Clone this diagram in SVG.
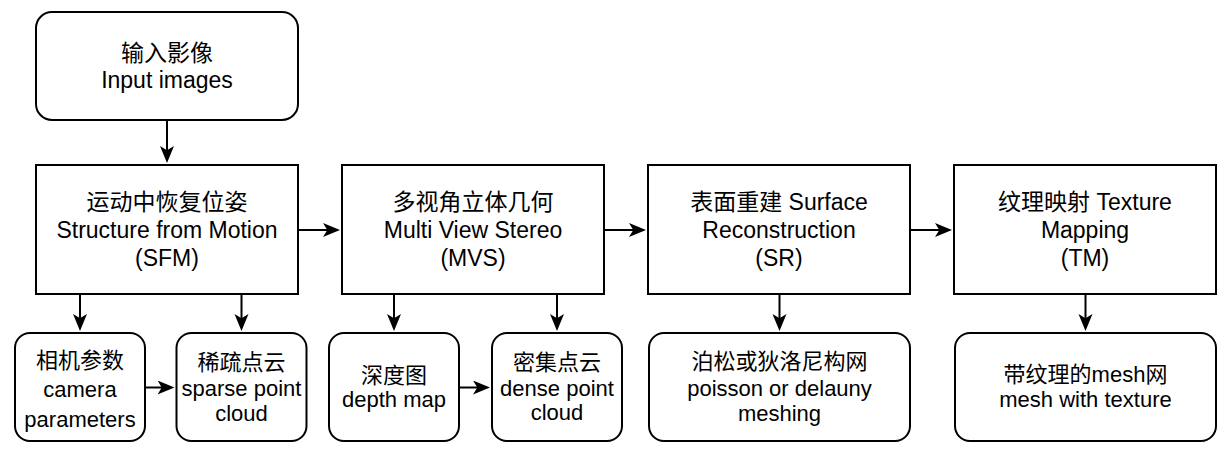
<svg xmlns="http://www.w3.org/2000/svg" width="1231" height="466" viewBox="0 0 1231 466">
  <defs>
    <marker id="arrow" markerUnits="userSpaceOnUse" markerWidth="18" markerHeight="15" refX="13" refY="7" orient="auto">
      <path d="M0,0 L17,7 L0,14 L4.3,7 Z" fill="#000"/>
    </marker>
    <style>
      .box { fill: #fff; stroke: #000; stroke-width: 2; }
      .edge { fill: none; stroke: #000; stroke-width: 2; marker-end: url(#arrow); }
      text { font-family: "Liberation Sans", "Noto Sans CJK SC", sans-serif; fill: #000; text-anchor: middle; }
      .big { font-size: 23px; }
      .small { font-size: 22px; }
    </style>
  </defs>
  <rect width="1231" height="466" fill="#fff"/>

  <g id="connectors">
    <line class="edge" x1="167" y1="120" x2="167" y2="159"/>
    <line class="edge" x1="298" y1="230" x2="336" y2="230"/>
    <line class="edge" x1="604" y1="230" x2="642" y2="230"/>
    <line class="edge" x1="910" y1="230" x2="948" y2="230"/>
    <line class="edge" x1="80" y1="294" x2="80" y2="327"/>
    <line class="edge" x1="241.5" y1="294" x2="241.5" y2="327"/>
    <line class="edge" x1="394" y1="294" x2="394" y2="327"/>
    <line class="edge" x1="557" y1="294" x2="557" y2="327"/>
    <line class="edge" x1="779.5" y1="294" x2="779.5" y2="327"/>
    <line class="edge" x1="1085.5" y1="294" x2="1085.5" y2="327"/>
    <line class="edge" x1="145" y1="387.5" x2="170.5" y2="387.5"/>
    <line class="edge" x1="459" y1="387.5" x2="486" y2="387.5"/>
  </g>

  <g id="input">
    <rect class="box" x="36" y="12" width="262" height="108" rx="16"/>
    <text class="big" x="167" y="61">输入影像</text>
    <text class="big" x="167" y="88">Input images</text>
  </g>

  <g id="sfm">
    <rect class="box" x="36" y="165" width="262" height="129"/>
    <text class="big" x="167" y="210">运动中恢复位姿</text>
    <text class="big" x="167" y="238">Structure from Motion</text>
    <text class="big" x="167" y="266">(SFM)</text>
  </g>

  <g id="mvs">
    <rect class="box" x="342" y="165" width="262" height="129"/>
    <text class="big" x="473" y="210">多视角立体几何</text>
    <text class="big" x="473" y="238">Multi View Stereo</text>
    <text class="big" x="473" y="266">(MVS)</text>
  </g>

  <g id="sr">
    <rect class="box" x="648" y="165" width="262" height="129"/>
    <text class="big" x="779" y="210">表面重建 Surface</text>
    <text class="big" x="779" y="238">Reconstruction</text>
    <text class="big" x="779" y="266">(SR)</text>
  </g>

  <g id="tm">
    <rect class="box" x="954" y="165" width="262" height="129"/>
    <text class="big" x="1085" y="210">纹理映射 Texture</text>
    <text class="big" x="1085" y="238">Mapping</text>
    <text class="big" x="1085" y="266">(TM)</text>
  </g>

  <g id="camera">
    <rect class="box" x="15" y="333" width="130" height="108" rx="15"/>
    <text class="small" x="80" y="368">相机参数</text>
    <text class="small" x="80" y="397">camera</text>
    <text class="small" x="80" y="427">parameters</text>
  </g>

  <g id="sparse">
    <rect class="box" x="176.5" y="333" width="130" height="108" rx="15"/>
    <text class="small" x="241.5" y="370">稀疏点云</text>
    <text class="small" x="241.5" y="396">sparse point</text>
    <text class="small" x="241.5" y="421">cloud</text>
  </g>

  <g id="depth">
    <rect class="box" x="329" y="333" width="130" height="108" rx="15"/>
    <text class="small" x="394" y="383">深度图</text>
    <text class="small" x="394" y="407">depth map</text>
  </g>

  <g id="dense">
    <rect class="box" x="492" y="333" width="130" height="108" rx="15"/>
    <text class="small" x="557" y="370">密集点云</text>
    <text class="small" x="557" y="396">dense point</text>
    <text class="small" x="557" y="420">cloud</text>
  </g>

  <g id="mesh">
    <rect class="box" x="649" y="333" width="261" height="108" rx="15"/>
    <text class="small" x="779.5" y="369">泊松或狄洛尼构网</text>
    <text class="small" x="779.5" y="396">poisson or delauny</text>
    <text class="small" x="779.5" y="421">meshing</text>
  </g>

  <g id="textured">
    <rect class="box" x="955" y="333" width="261" height="108" rx="15"/>
    <text class="small" x="1085.5" y="382">带纹理的mesh网</text>
    <text class="small" x="1085.5" y="407">mesh with texture</text>
  </g>
</svg>
